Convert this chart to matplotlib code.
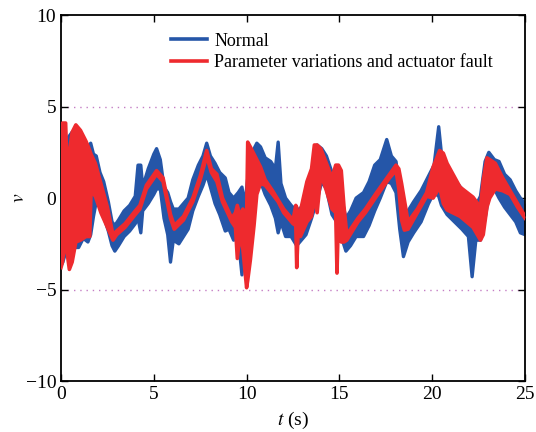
import numpy as np
import matplotlib
matplotlib.use('Agg')
import matplotlib.pyplot as plt
from matplotlib.lines import Line2D

# Envelopes (time, upper, lower)
normal_t = [0.00, 0.10, 0.30, 0.60, 0.95, 1.20, 1.45, 1.60, 1.75, 1.90, 2.10, 2.30, 2.55, 2.75,
            2.90, 3.10, 3.40, 3.70, 4.00, 4.15, 4.30, 4.40, 4.70, 5.00, 5.15, 5.35, 5.55, 5.75,
            5.90, 6.05, 6.35, 6.60, 6.85, 7.10, 7.40, 7.65, 7.85, 8.05, 8.30, 8.55, 8.85, 9.05,
            9.30, 9.55, 9.75, 9.90, 10.05, 10.30, 10.55, 10.75, 11.00, 11.30, 11.55, 11.70, 11.85,
            12.10, 12.40, 12.70, 12.95, 13.20, 13.50, 13.80, 14.05, 14.30, 14.60, 14.85, 15.10,
            15.35, 15.60, 15.90, 16.30, 16.60, 16.90, 17.20, 17.55, 17.80, 18.05, 18.25, 18.45,
            18.70, 19.00, 19.40, 19.80, 20.10, 20.35, 20.50, 20.80, 21.20, 21.60, 21.95, 22.15,
            22.35, 22.60, 22.85, 23.05, 23.35, 23.60, 23.90, 24.20, 24.50, 24.75, 25.00]
normal_hi = [-3.3, 3.0, 3.2, 3.6, 3.5, 3.2, 2.8, 3.0, 2.4, 2.3, 1.4, 0.9, -0.2, -1.3,
             -1.5, -1.2, -0.7, -0.4, 0.1, 1.8, 1.8, 0.6, 1.6, 2.4, 2.7, 2.1, 0.6, 0.3,
             -0.2, -0.6, -0.6, -0.3, 0.0, 1.0, 1.8, 2.3, 3.0, 2.3, 1.9, 1.4, 1.1, 0.3,
             0.0, 0.3, 0.6, -0.4, 1.0, 2.5, 3.0, 2.8, 2.2, 2.0, 1.6, 3.06, 0.8,
             0.0, -0.4, -0.7, -0.5, -0.2, 1.0, 2.9, 2.7, 2.3, 1.4, 0.9, 0.1,
             -1.1, -0.7, 0.0, 0.3, 0.9, 1.8, 2.1, 3.2, 2.3, 2.0, 0.4, -0.7,
             -0.7, -0.2, 0.4, 1.2, 1.8, 3.9, 2.4, 1.8, 1.0, 0.5, 0.1, -0.2,
             -0.4, 0.1, 2.0, 2.5, 2.1, 2.0, 1.3, 1.0, 0.4, 0.0, -0.3]
normal_lo = [-3.7, -3.5, -2.8, -2.7, -2.7, -2.2, -2.4, -2.0, -1.0, -0.2, -0.5, -1.0, -1.8, -2.6,
             -2.9, -2.6, -2.1, -1.8, -1.4, -1.1, -1.9, -0.7, -0.3, 0.2, 0.5, 0.5, -1.1, -2.0,
             -3.5, -2.3, -2.5, -2.1, -1.7, -0.7, 0.1, 0.7, 1.3, 0.6, -0.3, -0.9, -1.8, -1.7,
             -2.3, -2.2, -4.2, -2.5, -1.5, -0.5, 0.5, 0.9, 0.2, -0.4, -1.1, -1.9, -1.3,
             -2.1, -2.1, -2.6, -2.3, -2.0, -1.1, -0.1, 0.9, 0.5, -0.9, -1.3, -2.1,
             -2.9, -2.6, -2.1, -2.1, -1.5, -0.7, 0.0, 0.9, 0.8, 0.3, -1.7, -3.2,
             -2.4, -1.9, -1.3, -0.3, 0.3, 0.1, -0.4, -0.9, -1.3, -1.7, -2.1, -4.3,
             -2.3, -2.3, -1.1, 0.1, 0.5, 0.0, -0.5, -0.9, -1.3, -1.9, -2.0]

fault_t = [0.00, 0.08, 0.25, 0.33, 0.45, 0.60, 0.80, 1.05, 1.35, 1.55, 1.62, 1.85, 2.15, 2.50,
           2.80, 3.00, 3.45, 4.00, 4.25, 4.60, 5.15, 5.50, 5.90, 6.10, 6.60, 7.10, 7.50, 7.85,
           8.10, 8.40, 8.70, 9.20, 9.40, 9.50, 9.65, 9.80, 10.00, 10.06, 10.20, 10.40, 10.55,
           10.75, 11.00, 11.40, 11.70, 12.00, 12.50, 12.65, 12.70, 12.78, 12.90, 13.25, 13.50,
           13.65, 13.80, 14.00, 14.30, 14.60, 14.80, 14.87, 14.95, 15.10, 15.25, 15.40, 16.00,
           16.40, 17.00, 17.70, 18.05, 18.20, 18.35, 18.50, 18.70, 19.20, 19.70, 20.05, 20.40,
           20.60, 20.80, 21.50, 22.20, 22.60, 22.75, 22.95, 23.10, 23.40, 23.80, 24.20, 24.60, 25.00]
fault_hi = [-3.4, 4.1, 4.1, 1.5, 2.5, 3.6, 4.0, 3.7, 3.1, 2.6, 2.4, 1.9, 0.8, -0.5,
            -2.0, -1.8, -1.4, -0.7, -0.4, 0.7, 1.5, 1.1, -0.9, -1.5, -1.0, 0.0, 1.2, 2.6,
            1.6, 1.3, 0.0, -1.1, -0.8, -0.4, -1.0, -0.6, -1.0, 3.06, 2.8, 2.4, 2.1,
            1.7, 1.0, 0.4, -0.1, -0.6, -1.2, -0.4, -0.5, -1.2, -0.7, 0.9, 1.6,
            2.9, 2.9, 2.7, 1.9, 1.1, 1.8, 1.8, 1.8, 1.5, -0.5, -2.0, -1.1,
            -0.6, 0.3, 1.3, 1.8, 1.6, 0.8, -0.1, -1.3, -0.6, 0.3, 1.7, 2.6,
            2.45, 1.9, 0.6, 0.05, -0.5, 1.0, 2.2, 2.1, 1.9, 1.1, 0.4, -0.3, -1.0]
fault_lo = [-3.8, -3.5, -2.0, -3.0, -3.9, -3.5, -2.4, -2.3, -2.1, -2.1, 0.4, 0.1, -0.8, -1.6,
            -2.3, -2.0, -1.6, -0.9, -0.6, 0.5, 1.3, 0.9, -1.1, -1.7, -1.2, -0.2, 1.0, 2.3,
            1.4, 0.9, -0.2, -1.3, -1.6, -3.3, -1.9, -2.8, -4.9, -4.5, -3.4, -1.5, 0.2,
            0.8, 0.7, 0.2, -0.2, -0.8, -1.4, -1.5, -3.8, -1.8, -2.1, -1.3, -1.0,
            0.1, -0.8, 1.3, 0.4, -0.6, -0.8, -4.1, -1.0, -2.4, -2.4, -2.3, -1.3,
            -0.8, 0.1, 1.1, 1.5, 0.5, -1.2, -1.75, -1.7, -0.8, 0.1, 0.0, 0.6,
            -0.3, -0.65, -1.0, -1.6, -2.3, -2.0, -0.5, 0.0, 0.5, 0.4, 0.2, -0.5, -1.1]

bounds = [5, -5]

plt.rcParams['font.family'] = ['Liberation Serif', 'DejaVu Serif']
plt.rcParams['mathtext.fontset'] = 'stix'

blue = '#2556a8'
red = '#ee2a2e'

fig = plt.figure(figsize=(5.36, 4.32), dpi=100)
ax = fig.add_axes([0.1138, 0.118, 0.8657, 0.847])

ax.fill_between(normal_t, normal_lo, normal_hi, color=blue, lw=0, zorder=2)
ax.plot(normal_t, normal_hi, color=blue, lw=2.4, zorder=2)
ax.plot(normal_t, normal_lo, color=blue, lw=2.4, zorder=2)

ax.fill_between(fault_t, fault_lo, fault_hi, color=red, lw=0, zorder=3)
ax.plot(fault_t, fault_hi, color=red, lw=2.6, zorder=3)
ax.plot(fault_t, fault_lo, color=red, lw=2.6, zorder=3)

for b in bounds:
    ax.axhline(b, color='#c47ec4', lw=1.0, ls=(0, (1, 3.5)), zorder=1)

ax.set_xlim(0, 25)
ax.set_ylim(-10, 10)
ax.set_xticks([0, 5, 10, 15, 20, 25])
ax.set_yticks([-10, -5, 0, 5, 10])
ax.tick_params(direction='in', top=True, right=True, length=5, width=1, labelsize=14)
for s in ax.spines.values():
    s.set_linewidth(1.3)

ax.set_xlabel(r'$t$ (s)', fontsize=14, labelpad=5)
ax.set_ylabel(r'$v$', fontsize=14, labelpad=-1.5)

handles = [Line2D([], [], color=blue, lw=2.6), Line2D([], [], color=red, lw=2.6)]
ax.legend(handles, ['Normal', 'Parameter variations and actuator fault'],
          loc='upper left', bbox_to_anchor=(0.21, 0.987), frameon=False, fontsize=13,
          handlelength=2.0, handletextpad=0.4, labelspacing=0.25, borderaxespad=0.3)

fig.savefig('out.png', dpi=100)
